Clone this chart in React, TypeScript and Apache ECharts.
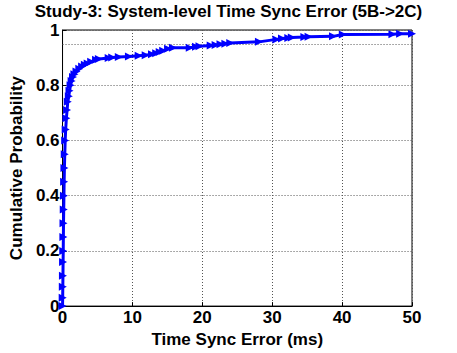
import React, { useEffect, useRef } from "react";
import * as echarts from "echarts";

const titleText = "Study-3: System-level Time Sync Error (5B->2C)";
const xAxisName = "Time Sync Error (ms)";
const yAxisName = "Cumulative Probability";

const errorMs: number[] = [
  0, 0.02, 0.04, 0.06, 0.08, 0.1, 0.12, 0.14, 0.17, 0.2, 0.23, 0.27, 0.32, 0.38, 0.45, 0.55,
  0.65, 0.75, 0.9, 1.0, 1.15, 1.3, 1.5, 1.7, 2.0, 2.4, 2.8, 3.2, 3.6, 4.1, 4.8, 5.2, 6.6,
  7.1, 8.05, 9.5, 10.9, 11.9, 12.8, 13.4, 13.9, 14.4, 15.1, 15.8, 18.2, 19.1, 19.6, 21.2,
  21.9, 22.6, 23.3, 24.0, 28.1, 30.6, 31.4, 32.3, 32.8, 34.6, 35.2, 38.7, 40.1, 47.2, 48.3, 50,
];
const cumProb: number[] = [
  0, 0.03, 0.07, 0.11, 0.16, 0.2, 0.25, 0.3, 0.35, 0.4, 0.45, 0.5, 0.55, 0.6, 0.64, 0.68,
  0.71, 0.74, 0.76, 0.78, 0.8, 0.815, 0.83, 0.84, 0.85, 0.86, 0.868, 0.874, 0.879, 0.885,
  0.892, 0.895, 0.899, 0.9, 0.902, 0.904, 0.907, 0.909, 0.912, 0.916, 0.92, 0.925, 0.932,
  0.936, 0.936, 0.939, 0.941, 0.944, 0.946, 0.948, 0.95, 0.953, 0.957, 0.966, 0.969, 0.971,
  0.973, 0.975, 0.976, 0.977, 0.984, 0.985, 0.986, 0.986,
];

const xTicks = { min: 0, max: 50, interval: 10 };
const yTicks = { min: 0, max: 1, interval: 0.2 };
const extraGridY = [0.95];

export default function App() {
  const ref = useRef<HTMLDivElement>(null);
  useEffect(() => {
    if (!ref.current) return;
    const chart = echarts.init(ref.current, undefined, { renderer: "svg" });
    const font = "'Liberation Sans', Arial, Helvetica, sans-serif";
    const gridLine = { show: true, lineStyle: { color: "#555", type: [1, 2] as any, width: 1 } };
    chart.setOption({
      animation: false,
      backgroundColor: "#ffffff",
      title: {
        text: titleText,
        left: "center",
        top: 0,
        padding: [2, 5, 0, 5],
        textStyle: { fontFamily: font, fontWeight: "bold", fontSize: 17, lineHeight: 19, color: "#000" },
      },
      grid: {
        left: 58,
        right: 45,
        top: 30,
        bottom: 38,
        show: true,
        borderColor: "#000",
        borderWidth: 1,
        backgroundColor: "transparent",
      },
      xAxis: {
        type: "value",
        min: xTicks.min,
        max: xTicks.max,
        interval: xTicks.interval,
        name: xAxisName,
        nameLocation: "middle",
        nameGap: 21,
        nameTextStyle: { fontFamily: font, fontWeight: "bold", fontSize: 17, color: "#000" },
        axisLine: { show: true, onZero: false, lineStyle: { color: "#000", width: 1 } },
        axisTick: { show: true, inside: true, length: 4, lineStyle: { color: "#000" } },
        axisLabel: { fontFamily: font, fontWeight: "bold", fontSize: 17, color: "#000", margin: 3 },
        splitLine: gridLine,
      },
      yAxis: {
        type: "value",
        min: yTicks.min,
        max: yTicks.max,
        interval: yTicks.interval,
        name: yAxisName,
        nameLocation: "middle",
        nameGap: 29,
        nameTextStyle: { fontFamily: font, fontWeight: "bold", fontSize: 17, color: "#000" },
        axisLine: { show: true, onZero: false, lineStyle: { color: "#000", width: 1 } },
        axisTick: { show: true, inside: true, length: 4, lineStyle: { color: "#000" } },
        axisLabel: { fontFamily: font, fontWeight: "bold", fontSize: 17, color: "#000", margin: 3 },
        splitLine: gridLine,
      },
      series: [
        {
          type: "line",
          data: errorMs.map((x, i) => [x, cumProb[i]]),
          lineStyle: { color: "#0000ff", width: 3 },
          itemStyle: { color: "#0000ff" },
          symbol: "triangle",
          symbolRotate: -90,
          symbolSize: 8,
          showSymbol: true,
          showAllSymbol: true,
          clip: false,
          z: 5,
          markLine: {
            silent: true,
            symbol: "none",
            label: { show: false },
            lineStyle: { color: "#555", type: [1, 2] as any, width: 1 },
            data: extraGridY.map((v) => ({ yAxis: v })),
            z: 1,
          },
        },
      ],
    });
    return () => chart.dispose();
  }, []);
  return (
    <div
      ref={ref}
      style={{ position: "absolute", left: 0, top: 0, width: 457, height: 353 }}
    />
  );
}
